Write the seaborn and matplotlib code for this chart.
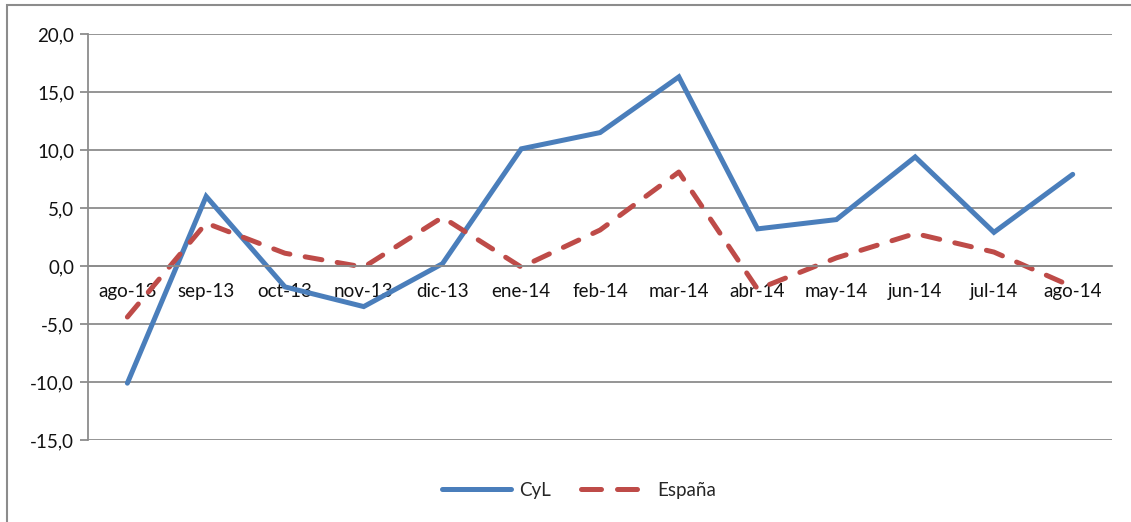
import matplotlib
matplotlib.use("Agg")
import matplotlib.pyplot as plt
import matplotlib.ticker as mticker
from matplotlib.patches import Rectangle
import seaborn as sns
import pandas as pd

# data
months = ["ago-13", "sep-13", "oct-13", "nov-13", "dic-13", "ene-14", "feb-14",
          "mar-14", "abr-14", "may-14", "jun-14", "jul-14", "ago-14"]
cyl = [-10.1, 6.0, -1.8, -3.5, 0.2, 10.1, 11.5, 16.3, 3.2, 4.0, 9.4, 2.9, 7.9]
espana = [-4.4, 3.7, 1.1, -0.1, 4.2, -0.1, 3.1, 8.1, -2.0, 0.7, 2.8, 1.2, -1.8]

df = pd.DataFrame({
    "pos": list(range(len(months))) * 2,
    "valor": cyl + espana,
    "serie": ["CyL"] * len(months) + ["España"] * len(months),
})

sns.set_style("white")
plt.rcParams["font.family"] = ["Lato", "DejaVu Sans"]

fig = plt.figure(figsize=(11.31, 5.22), dpi=100)
ax = fig.add_axes([0.0778, 0.1571, 0.9055, 0.7778])

grid_col = "#8c8c8c"
fs = 13.5

# -----------------------------
# lines
# -----------------------------
sns.lineplot(data=df[df["serie"] == "CyL"], x="pos", y="valor", ax=ax,
             color="#4A7EBB", linewidth=3.6, label="CyL",
             solid_capstyle="round", solid_joinstyle="miter")
sns.lineplot(data=df[df["serie"] == "España"], x="pos", y="valor", ax=ax,
             color="#BE4B48", linewidth=3.6, label="España",
             dashes=False)
esp_line = ax.get_lines()[-1]
esp_line.set_dashes((3.4, 3.1))
esp_line.set_dash_capstyle("round")

# -----------------------------
# axes
# -----------------------------
ax.set_xlim(-0.5, len(months) - 0.5)
ax.set_ylim(-15, 20)
ax.set_yticks(range(-15, 21, 5))
ax.yaxis.set_major_formatter(mticker.FuncFormatter(lambda v, p: f"{v:.1f}".replace(".", ",")))
ax.grid(axis="y", color=grid_col, linewidth=1.3)
ax.set_axisbelow(True)

ax.spines["top"].set_visible(False)
ax.spines["right"].set_visible(False)
ax.spines["left"].set_color(grid_col)
ax.spines["left"].set_linewidth(1.3)
ax.spines["bottom"].set_position(("data", 0))
ax.spines["bottom"].set_color(grid_col)
ax.spines["bottom"].set_linewidth(1.3)

ax.set_xticks(range(len(months)))
ax.set_xticklabels(months)
ax.set_xticks([i - 0.5 for i in range(len(months) + 1)], minor=True)
ax.tick_params(axis="x", which="major", length=0, pad=12, labelsize=fs, labelcolor="#111111")
ax.tick_params(axis="x", which="minor", length=6, width=1.3, color=grid_col, direction="out")
ax.tick_params(axis="y", length=6, width=1.3, color=grid_col, left=True,
               labelsize=fs, labelcolor="#111111", pad=4)
ax.set_xlabel("")
ax.set_ylabel("")

# legend
leg = ax.legend(loc="center", bbox_to_anchor=(0.512, 0.061),
                bbox_transform=fig.transFigure, ncol=2, frameon=False,
                fontsize=fs, handlelength=3.7, columnspacing=1.6, handletextpad=0.4)
leg_esp = leg.get_lines()[1]
leg_esp.set_dashes((4.0, 3.2))
leg_esp.set_dash_capstyle("round")

# chart border (Excel chart area)
fig.patches.append(Rectangle((0.0062, -0.1), 1.2, 1.1 - 5 / 522, transform=fig.transFigure,
                             fill=False, edgecolor="#8c8c8c", linewidth=1.5))

plt.savefig("out.png", dpi=100)
plt.close()
